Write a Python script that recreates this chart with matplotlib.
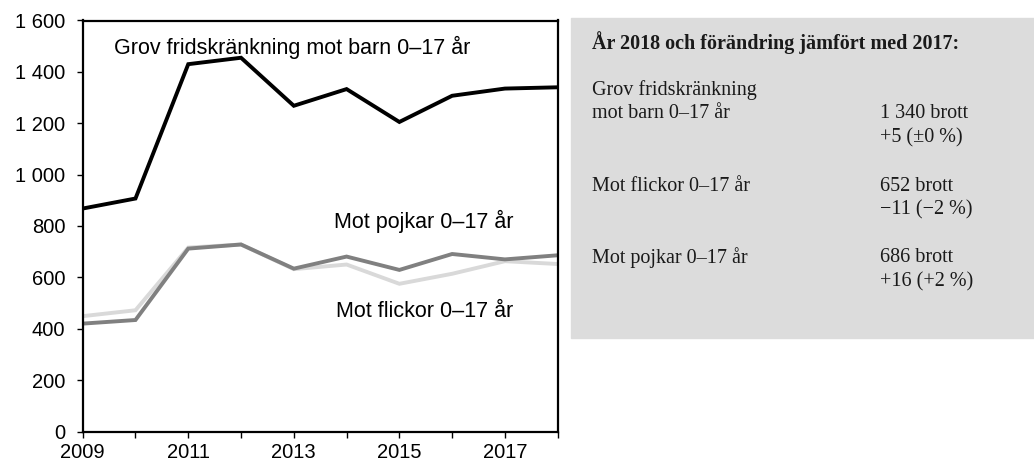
import matplotlib.pyplot as plt
from matplotlib.ticker import FuncFormatter

years = [2009, 2010, 2011, 2012, 2013, 2014, 2015, 2016, 2017, 2018]
barn = [868, 907, 1430, 1455, 1268, 1333, 1205, 1307, 1335, 1340]
pojkar = [420, 434, 712, 728, 634, 681, 629, 691, 670, 686]
flickor = [449, 472, 716, 728, 632, 650, 575, 614, 663, 652]

fig = plt.figure(figsize=(10.34, 4.66), dpi=100)
ax = fig.add_axes([82.7 / 1034, 34.5 / 466, 475 / 1034, 411 / 466])

ax.plot(years, flickor, color='#d9d9d9', lw=2.8, solid_joinstyle='miter')
ax.plot(years, pojkar, color='#808080', lw=2.8, solid_joinstyle='miter')
ax.plot(years, barn, color='black', lw=2.8, solid_joinstyle='miter')

ax.set_xlim(2009, 2018)
ax.set_ylim(0, 1600)
ax.set_xticks(years)
ax.set_xticklabels([str(y) if y % 2 == 1 else '' for y in years])
ax.set_yticks(range(0, 1601, 200))
ax.yaxis.set_major_formatter(FuncFormatter(lambda v, p: f'{int(v):,}'.replace(',', ' ')))
for s in ax.spines.values():
    s.set_linewidth(1.6)
ax.tick_params(labelsize=14.5, width=1, length=4.5, direction='out')
ax.tick_params(axis='y', pad=8)
ax.tick_params(axis='x', pad=4)
for lab in ax.get_xticklabels() + ax.get_yticklabels():
    lab.set_family('Liberation Sans')

sans = dict(fontsize=15.5, family='Liberation Sans', ha='center', va='center')
ax.text(2012.97, 1495, 'Grov fridskränkning mot barn 0–17 år', **sans)
ax.text(2015.47, 818, 'Mot pojkar 0–17 år', **sans)
ax.text(2015.47, 467, 'Mot flickor 0–17 år', **sans)

# grey info box
box = plt.Rectangle((571 / 1034, 1 - 338 / 466), 463 / 1034, 320 / 466,
                    transform=fig.transFigure, color='#dcdcdc', zorder=0)
fig.patches.append(box)

serif = dict(fontsize=14.5, family='Liberation Serif', va='center', color='#1a1a1a')
def put(x, y, s, **kw):
    fig.text(x / 1034, 1 - y / 466, s, **{**serif, **kw})

put(592, 43, 'År 2018 och förändring jämfört med 2017:', fontweight='bold')
put(592, 90, 'Grov fridskränkning')
put(592, 114, 'mot barn 0–17 år')
put(880, 114, '1 340 brott')
put(880, 138, '+5 (±0 %)')
put(592, 186, 'Mot flickor 0–17 år')
put(880, 186, '652 brott')
put(880, 210, '−11 (−2 %)')
put(592, 258, 'Mot pojkar 0–17 år')
put(880, 258, '686 brott')
put(880, 282, '+16 (+2 %)')

fig.savefig('out.png', dpi=100)
